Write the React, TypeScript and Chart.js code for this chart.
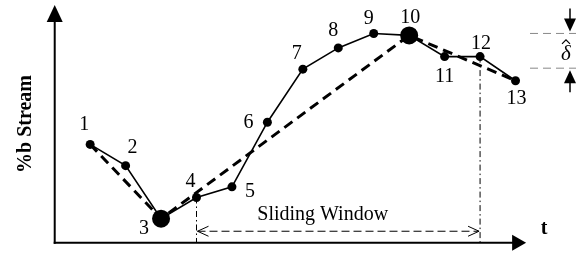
import React, { useEffect, useRef } from "react";
import { Chart, registerables } from "chart.js";
Chart.register(...registerables);

// ---- data ----
const timeSteps = [1, 2, 3, 4, 5, 6, 7, 8, 9, 10, 11, 12, 13];
const streamValues = [51, 40, 12.5, 23.5, 29, 62.5, 90, 101, 108.5, 107.5, 96.5, 96.5, 84];
const pointLabels = ["1", "2", "3", "4", "5", "6", "7", "8", "9", "10", "11", "12", "13"];
const segmentIdx = [0, 2, 9, 12]; // indices of the piecewise-linear fit knots
const bigPointIdx = [2, 9];
const windowStartIdx = 3;
const windowEndIdx = 11;
const deltaTop = 108.5;
const deltaBottom = 90.5;
const windowArrowY = 6;

// ---- styles (pixel offsets of the number labels) ----
const labelOffsets: [number, number][] = [
  [-6, -20], [7, -18], [-17, 10], [-6, -16], [18, 5], [-19, 1], [-6, -15],
  [-5, -17], [-5, -15], [1, -18], [0, 20], [1, -13], [1, 18],
];

const SERIF = '"Liberation Serif", "Times New Roman", serif';

function arrowHead(ctx: CanvasRenderingContext2D, tipX: number, tipY: number, dir: "up" | "down" | "right", len: number, half: number) {
  ctx.beginPath();
  if (dir === "up") {
    ctx.moveTo(tipX, tipY);
    ctx.lineTo(tipX - half, tipY + len);
    ctx.lineTo(tipX + half, tipY + len);
  } else if (dir === "down") {
    ctx.moveTo(tipX, tipY);
    ctx.lineTo(tipX - half, tipY - len);
    ctx.lineTo(tipX + half, tipY - len);
  } else {
    ctx.moveTo(tipX, tipY);
    ctx.lineTo(tipX - len, tipY - half);
    ctx.lineTo(tipX - len, tipY + half);
  }
  ctx.closePath();
  ctx.fill();
}

const decorPlugin = {
  id: "decor",
  beforeDatasetsDraw(chart: any) {
    const ctx: CanvasRenderingContext2D = chart.ctx;
    const xs = chart.scales.x;
    const ys = chart.scales.y;
    const x0 = xs.getPixelForValue(0);
    const y0 = ys.getPixelForValue(0);
    ctx.save();
    ctx.strokeStyle = "#000";
    ctx.fillStyle = "#000";
    ctx.lineWidth = 2;
    ctx.setLineDash([]);
    // y axis
    ctx.beginPath();
    ctx.moveTo(x0, y0 + 1);
    ctx.lineTo(x0, 18);
    ctx.stroke();
    arrowHead(ctx, x0, 5, "up", 17, 8);
    // x axis
    const xEnd = xs.getPixelForValue(13.3);
    ctx.beginPath();
    ctx.moveTo(x0 - 1, y0);
    ctx.lineTo(xEnd - 12, y0);
    ctx.stroke();
    arrowHead(ctx, xEnd, y0, "right", 14, 8);

    // sliding window verticals (dash-dot)
    ctx.lineWidth = 1;
    ctx.setLineDash([6, 3, 1.5, 3]);
    [windowStartIdx, windowEndIdx].forEach((i) => {
      const px = xs.getPixelForValue(timeSteps[i]);
      ctx.beginPath();
      ctx.moveTo(px, ys.getPixelForValue(streamValues[i]));
      ctx.lineTo(px, y0);
      ctx.stroke();
    });
    // sliding window horizontal dashed double arrow
    const ax1 = xs.getPixelForValue(timeSteps[windowStartIdx]);
    const ax2 = xs.getPixelForValue(timeSteps[windowEndIdx]);
    const ay = ys.getPixelForValue(windowArrowY);
    ctx.setLineDash([8, 4]);
    ctx.beginPath();
    ctx.moveTo(ax1 + 1, ay);
    ctx.lineTo(ax2 - 1, ay);
    ctx.stroke();
    ctx.setLineDash([]);
    ctx.beginPath();
    ctx.moveTo(ax1 + 12, ay - 5);
    ctx.lineTo(ax1 + 1, ay);
    ctx.lineTo(ax1 + 12, ay + 5);
    ctx.moveTo(ax2 - 12, ay - 5);
    ctx.lineTo(ax2 - 1, ay);
    ctx.lineTo(ax2 - 12, ay + 5);
    ctx.stroke();

    // text
    ctx.textAlign = "center";
    ctx.textBaseline = "middle";
    ctx.font = `20px ${SERIF}`;
    ctx.fillText("Sliding Window", xs.getPixelForValue(7.56), ys.getPixelForValue(16) + 3);
    ctx.font = `bold 20px ${SERIF}`;
    ctx.fillText("t", xEnd + 18, y0 - 14);
    ctx.save();
    ctx.translate(26, 124);
    ctx.rotate(-Math.PI / 2);
    ctx.fillText("%b Stream", 0, 0);
    ctx.restore();

    // delta annotation
    const dTop = ys.getPixelForValue(deltaTop);
    const dBot = ys.getPixelForValue(deltaBottom);
    ctx.strokeStyle = "#888";
    ctx.lineWidth = 1;
    ctx.setLineDash([8, 5]);
    [dTop, dBot].forEach((py) => {
      ctx.beginPath();
      ctx.moveTo(530, py);
      ctx.lineTo(576, py);
      ctx.stroke();
    });
    ctx.setLineDash([]);
    ctx.strokeStyle = "#000";
    ctx.lineWidth = 1.5;
    ctx.beginPath();
    ctx.moveTo(570, dTop - 25);
    ctx.lineTo(570, dTop - 12);
    ctx.moveTo(570, dBot + 24);
    ctx.lineTo(570, dBot + 12);
    ctx.stroke();
    arrowHead(ctx, 570, dTop - 2, "down", 13, 6);
    arrowHead(ctx, 570, dBot + 2, "up", 13, 6);
    ctx.font = `italic 21px ${SERIF}`;
    const dm = (dTop + dBot) / 2;
    ctx.fillText("\u03B4", 566, dm + 4);
    ctx.lineWidth = 1.2;
    ctx.beginPath();
    ctx.moveTo(562, dm - 7);
    ctx.lineTo(566, dm - 11);
    ctx.lineTo(570, dm - 7);
    ctx.stroke();
    ctx.restore();
  },
  afterDatasetsDraw(chart: any) {
    const ctx: CanvasRenderingContext2D = chart.ctx;
    const xs = chart.scales.x;
    const ys = chart.scales.y;
    ctx.save();
    ctx.fillStyle = "#000";
    ctx.font = `20px ${SERIF}`;
    ctx.textAlign = "center";
    ctx.textBaseline = "middle";
    pointLabels.forEach((lab, i) => {
      const px = xs.getPixelForValue(timeSteps[i]);
      const py = ys.getPixelForValue(streamValues[i]);
      ctx.fillText(lab, px + labelOffsets[i][0], py + labelOffsets[i][1]);
    });
    ctx.restore();
  },
};

export default function App() {
  const ref = useRef<HTMLCanvasElement | null>(null);
  useEffect(() => {
    if (!ref.current) return;
    const solid = timeSteps.map((t, i) => ({ x: t, y: streamValues[i] }));
    const dashed = segmentIdx.map((i) => ({ x: timeSteps[i], y: streamValues[i] }));
    const radii = timeSteps.map((_, i) => (bigPointIdx.includes(i) ? 9 : 4.5));
    const chart = new Chart(ref.current, {
      type: "line",
      data: {
        datasets: [
          {
            label: "stream",
            data: solid,
            borderColor: "#000",
            backgroundColor: "#000",
            borderWidth: 1.6,
            pointRadius: radii,
            pointBorderWidth: 0,
            pointBackgroundColor: "#000",
            tension: 0,
            clip: false,
            order: 1,
          },
          {
            label: "fit",
            data: dashed,
            borderColor: "#000",
            borderWidth: 3,
            borderDash: [10, 6],
            pointRadius: 0,
            tension: 0,
            clip: false,
            order: 2,
          },
        ],
      },
      options: {
        responsive: false,
        animation: false,
        devicePixelRatio: 1,
        layout: { padding: 0 },
        plugins: { legend: { display: false }, tooltip: { enabled: false } },
        scales: {
          x: { type: "linear", min: -51 / 36, max: (585 - 51) / 36, display: false },
          y: { type: "linear", min: -4.5, max: 123.5, display: false },
        },
      },
      plugins: [decorPlugin],
    });
    return () => chart.destroy();
  }, []);
  return (
    <div style={{ position: "fixed", left: 0, top: 0, width: 585, height: 256, background: "#fff" }}>
      <canvas ref={ref} width={585} height={256} />
    </div>
  );
}
